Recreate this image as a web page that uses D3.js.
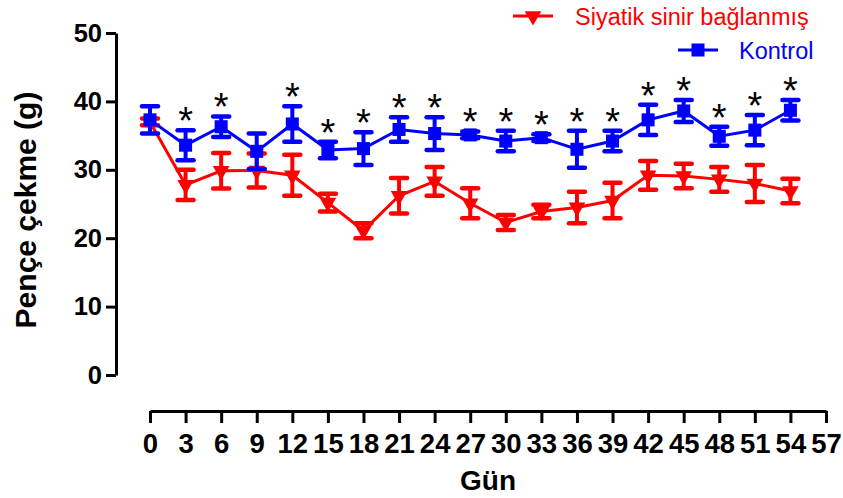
<!DOCTYPE html>
<html><head><meta charset="utf-8">
<script src="https://cdn.jsdelivr.net/npm/d3@7"></script>
<style>
html,body{margin:0;padding:0;background:#fff;}
svg text{font-family:"Liberation Sans",Arial,sans-serif;}
</style></head>
<body>
<svg id="c" width="843" height="498"></svg>
<script>
const days = [0,3,6,9,12,15,18,21,24,27,30,33,36,39,42,45,48,51,54];
const controlMean = [37.3,33.6,36.3,32.7,36.7,32.9,33.1,35.9,35.3,35.1,34.2,34.7,33.0,34.2,37.3,38.6,34.9,35.8,38.7];
const controlErr  = [2.0,2.2,1.5,2.6,2.6,1.2,2.4,1.8,2.4,0.5,1.5,0.5,2.7,1.5,2.2,1.6,1.4,2.2,1.5];
const ligatedMean = [37.0,27.8,29.85,29.9,29.2,25.2,21.1,26.2,28.3,25.1,22.3,23.9,24.5,25.5,29.2,29.1,28.6,28.0,26.9];
const ligatedErr  = [0.5,2.2,2.6,2.5,3.0,1.3,1.1,2.6,2.1,2.2,1.1,1.0,2.3,2.6,2.1,1.8,1.8,2.7,1.8];
const significant = [false,true,true,false,true,true,true,true,true,true,true,true,true,true,true,true,true,true,true];
const xTicks = [0,3,6,9,12,15,18,21,24,27,30,33,36,39,42,45,48,51,54,57];
const yTicks = [0,10,20,30,40,50];
const seriesNames = ["Siyatik sinir bağlanmış","Kontrol"];
const RED = "#ff0000", BLUE = "#0000ff";

const svg = d3.select("#c");
const x = d3.scaleLinear().domain([0,57]).range([150,826]);
const y = d3.scaleLinear().domain([0,50]).range([375,33]);

// Y axis
const ya = svg.append("g").attr("transform","translate(116,0)")
  .call(d3.axisLeft(y).tickValues(yTicks).tickSizeInner(10).tickSizeOuter(0).tickPadding(4));
ya.select(".domain").attr("stroke","#000").attr("stroke-width",3);
ya.selectAll(".tick line").attr("stroke","#000").attr("stroke-width",3);
ya.selectAll(".tick text").attr("font-size",25.5).attr("font-weight","bold").attr("fill","#000")
  .attr("font-family","'Liberation Sans',Arial,sans-serif");

// X axis
const xa = svg.append("g").attr("transform","translate(0,411)")
  .call(d3.axisBottom(x).tickValues(xTicks).tickSizeInner(12).tickSizeOuter(0).tickPadding(10));
xa.select(".domain").attr("stroke","#000").attr("stroke-width",3);
xa.selectAll(".tick line").attr("stroke","#000").attr("stroke-width",3);
xa.selectAll(".tick text").attr("font-size",27.5).attr("font-weight","bold").attr("fill","#000")
  .attr("font-family","'Liberation Sans',Arial,sans-serif");

// axis titles
svg.append("text").attr("x",488).attr("y",490).attr("text-anchor","middle")
  .attr("font-size",28).attr("font-weight","bold").text("Gün");
svg.append("text").attr("transform","translate(36,210) rotate(-90)").attr("text-anchor","middle")
  .attr("font-size",30).attr("font-weight","bold").text("Pençe çekme (g)");

function drawSeries(mean, err, color, symbolType, symSize){
  const g = svg.append("g");
  const data = days.map((d,i)=>({d, m:mean[i], e:err[i]}));
  g.append("path").datum(data)
    .attr("fill","none").attr("stroke",color).attr("stroke-width",3)
    .attr("d", d3.line().x(p=>x(p.d)).y(p=>y(p.m)));
  const eb = g.selectAll(".eb").data(data).enter().append("g");
  eb.append("line").attr("x1",p=>x(p.d)).attr("x2",p=>x(p.d))
    .attr("y1",p=>y(p.m+p.e)).attr("y2",p=>y(p.m-p.e))
    .attr("stroke",color).attr("stroke-width",4);
  [1,-1].forEach(s=>{
    eb.append("line").attr("x1",p=>x(p.d)-8).attr("x2",p=>x(p.d)+8)
      .attr("y1",p=>y(p.m+s*p.e)).attr("y2",p=>y(p.m+s*p.e))
      .attr("stroke",color).attr("stroke-width",4.5).attr("stroke-linecap","round");
  });
  eb.append("path").attr("d", d3.symbol().type(symbolType).size(symSize)())
    .attr("transform",p=> symbolType===d3.symbolTriangle
        ? `translate(${x(p.d)},${y(p.m)}) rotate(180)` : `translate(${x(p.d)},${y(p.m)})`)
    .attr("fill",color);
}
drawSeries(ligatedMean, ligatedErr, RED, d3.symbolTriangle, 120);
drawSeries(controlMean, controlErr, BLUE, d3.symbolSquare, 170);

// asterisks
svg.append("g").selectAll("text").data(days.map((d,i)=>i).filter(i=>significant[i]))
  .enter().append("text")
  .attr("x",i=>x(days[i])).attr("y",i=>y(controlMean[i]+controlErr[i]) + 4)
  .attr("text-anchor","middle").attr("font-size",38).attr("fill","#000").text("*");

// legend
const leg = [
  {name:seriesNames[0], color:RED, x1:513, x2:553, ty:16, tx:575, sym:d3.symbolTriangle},
  {name:seriesNames[1], color:BLUE, x1:678, x2:718, ty:50, tx:739, sym:d3.symbolSquare}
];
leg.forEach(l=>{
  svg.append("line").attr("x1",l.x1).attr("x2",l.x2).attr("y1",l.ty).attr("y2",l.ty)
    .attr("stroke",l.color).attr("stroke-width",3);
  svg.append("path").attr("d", d3.symbol().type(l.sym).size(l.sym===d3.symbolTriangle?120:170)())
    .attr("transform", l.sym===d3.symbolTriangle ? `translate(${(l.x1+l.x2)/2},${l.ty}) rotate(180)` : `translate(${(l.x1+l.x2)/2},${l.ty})`)
    .attr("fill",l.color);
  svg.append("text").attr("x",l.tx).attr("y",l.ty+8.5).attr("font-size",23.5).attr("fill",l.color).text(l.name);
});
</script>
</body></html>
